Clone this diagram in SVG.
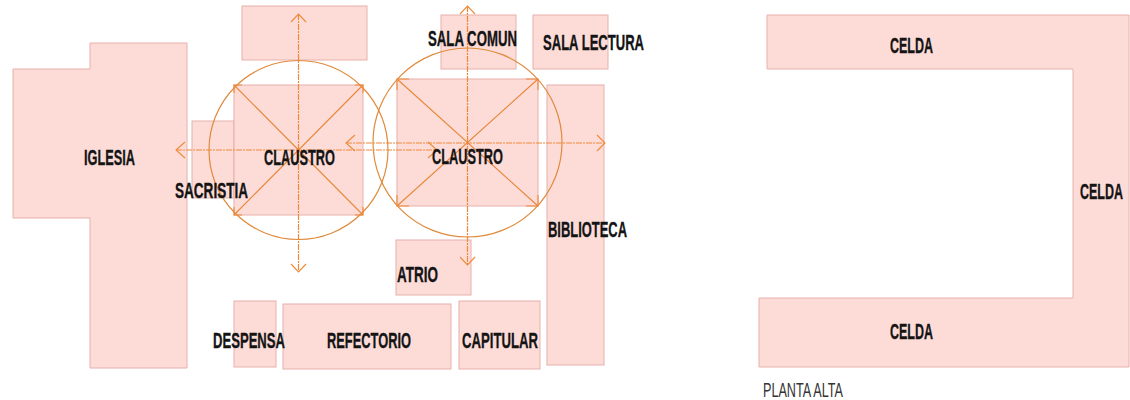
<svg xmlns="http://www.w3.org/2000/svg" width="1130" height="400" viewBox="0 0 1130 400">
<style>
.room{fill:#fddcd8;stroke:#e6b0aa;stroke-width:1}
.ring{fill:none;stroke:#e08a3c;stroke-width:1.2}
.axis{fill:none;stroke:#f0883a;stroke-width:1.2;stroke-dasharray:6 1 2 1}
.diag{fill:none;stroke:#e8873a;stroke-width:1.1}
.head{fill:none;stroke:#ee8a35;stroke-width:1.1}
text{font-family:"Liberation Sans",Arial,sans-serif;fill:#141414}
.lab{font-size:22.5px;font-weight:700;stroke:#141414;stroke-width:.35}
.plain{font-size:20.5px;fill:#333}
</style>
<rect width="1130" height="400" fill="#fff"/>
<g id="iglesia"><polygon class="room" points="13,69 90,69 90,43 187,43 187,368 90,368 90,218 13,218"/><text class="lab" transform="translate(84 165) scale(.6 1)" textLength="85" lengthAdjust="spacingAndGlyphs">IGLESIA</text></g>
<g id="patio-norte"><rect class="room" x="242" y="6" width="125" height="54"/></g>
<g id="sacristia"><rect class="room" x="192" y="121" width="42" height="77"/></g>
<g id="claustro-1"><rect class="room" x="234" y="85" width="129" height="130"/></g>
<g id="claustro-2"><rect class="room" x="397" y="79" width="141" height="127"/></g>
<g id="sala-comun"><rect class="room" x="441" y="15" width="75" height="54"/></g>
<g id="sala-lectura"><rect class="room" x="533" y="15" width="75" height="54"/></g>
<g id="biblioteca"><rect class="room" x="547" y="85" width="57" height="280"/></g>
<g id="atrio"><rect class="room" x="396" y="240" width="75" height="55"/></g>
<g id="despensa"><rect class="room" x="234" y="301" width="42" height="66"/></g>
<g id="refectorio"><rect class="room" x="283" y="304" width="168" height="65"/></g>
<g id="capitular"><rect class="room" x="459" y="301" width="81" height="68"/></g>
<g id="celda"><polygon class="room" points="767,15 1129,15 1129,367 759,367 759,298 1073,298 1073,69 767,69"/></g>
<g id="connectors">
<circle class="ring" cx="298.5" cy="150" r="89.5"/>
<circle class="ring" cx="467.5" cy="142.5" r="94.5"/>
<path class="diag" d="M234,85 L363,215 M363,85 L234,215 M397,79 L538,206 M538,79 L397,206"/>
<path class="axis" d="M298.5,14 V272 M176,150 H437 M346,143 H605 M467.5,6 V265"/>
<path class="head" d="M291,22 L298.5,14 L306,22 M291,264 L298.5,272 L306,264 M185,142 L176,150 L185,158 M428,142 L437,150 L428,158 M355,135 L346,143 L355,151 M597,135 L605,143 L597,151 M460,14 L467.5,6 L475,14 M460,257 L467.5,265 L475,257"/>
<path class="head" d="M234,93 V85 H242 M355,85 H363 V93 M234,207 V215 H242 M355,215 H363 V207 M397,90 V79 H409 M526,79 H538 V90 M397,195 V206 H409 M526,206 H538 V195"/>
</g>
<g id="labels">
<text class="lab" transform="translate(175 198) scale(.6 1)" textLength="121.67" lengthAdjust="spacingAndGlyphs">SACRISTIA</text>
<text class="lab" transform="translate(264 165) scale(.6 1)" textLength="118.33" lengthAdjust="spacingAndGlyphs">CLAUSTRO</text>
<text class="lab" transform="translate(432 164) scale(.6 1)" textLength="118.33" lengthAdjust="spacingAndGlyphs">CLAUSTRO</text>
<text class="lab" transform="translate(428 46) scale(.6 1)" textLength="148.33" lengthAdjust="spacingAndGlyphs">SALA COMUN</text>
<text class="lab" transform="translate(543 50) scale(.6 1)" textLength="168.33" lengthAdjust="spacingAndGlyphs">SALA LECTURA</text>
<text class="lab" transform="translate(548 237) scale(.6 1)" textLength="131.67" lengthAdjust="spacingAndGlyphs">BIBLIOTECA</text>
<text class="lab" transform="translate(397 282) scale(.6 1)" textLength="68.33" lengthAdjust="spacingAndGlyphs">ATRIO</text>
<text class="lab" transform="translate(213 348) scale(.6 1)" textLength="120" lengthAdjust="spacingAndGlyphs">DESPENSA</text>
<text class="lab" transform="translate(327 348) scale(.6 1)" textLength="140" lengthAdjust="spacingAndGlyphs">REFECTORIO</text>
<text class="lab" transform="translate(462 348) scale(.6 1)" textLength="126.67" lengthAdjust="spacingAndGlyphs">CAPITULAR</text>
<text class="lab" transform="translate(890 53) scale(.6 1)" textLength="71.67" lengthAdjust="spacingAndGlyphs">CELDA</text>
<text class="lab" transform="translate(1080 199) scale(.6 1)" textLength="71.67" lengthAdjust="spacingAndGlyphs">CELDA</text>
<text class="lab" transform="translate(890 339) scale(.6 1)" textLength="71.67" lengthAdjust="spacingAndGlyphs">CELDA</text>
<text class="plain" transform="translate(763 397) scale(.6 1)" textLength="133.33" lengthAdjust="spacingAndGlyphs">PLANTA ALTA</text>
</g>
</svg>
